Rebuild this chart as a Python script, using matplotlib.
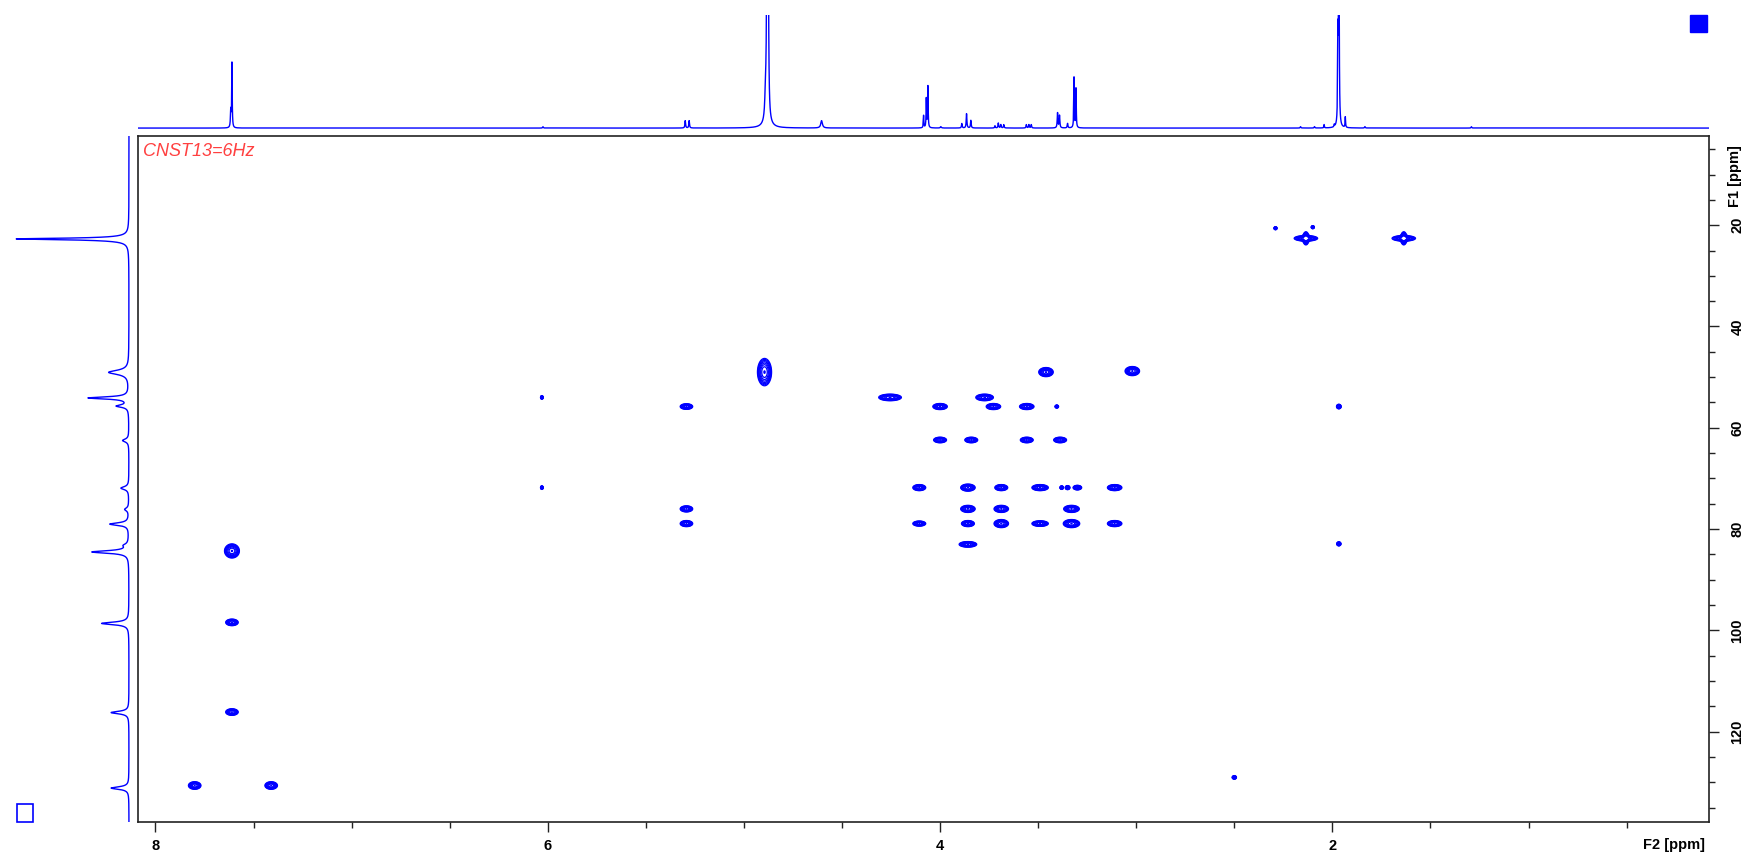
import numpy as np
import matplotlib
matplotlib.use("Agg")
from matplotlib import pyplot as plt
from matplotlib.ticker import MultipleLocator
from matplotlib.patches import Rectangle

# 1H projection on top (F2): shift [ppm], height, half width [ppm]
h_shift = [7.610, 7.616, 6.024, 5.299, 5.279, 4.877, 4.882, 4.890, 4.880, 4.604,
           4.084, 4.070, 4.062, 3.996, 3.889, 3.865, 3.843, 3.720, 3.703, 3.690,
           3.675, 3.560, 3.547, 3.535, 3.401, 3.391, 3.350, 3.317, 3.307,
           2.162, 2.091, 2.042, 1.990, 1.967, 1.972, 1.934, 1.834, 1.291]
h_height = [0.57, 0.15, 0.012, 0.065, 0.065, 3.0, 3.0, 0.20, 0.03, 0.065,
            0.11, 0.26, 0.37, 0.012, 0.04, 0.127, 0.068, 0.02, 0.044, 0.03,
            0.03, 0.03, 0.03, 0.03, 0.133, 0.11, 0.04, 0.45, 0.35,
            0.012, 0.012, 0.03, 0.02, 3.0, 0.71, 0.094, 0.012, 0.012]
h_hwhm = [0.0015, 0.002, 0.002, 0.002, 0.002, 0.002, 0.002, 0.004, 0.025, 0.005,
          0.0015, 0.0015, 0.0015, 0.003, 0.002, 0.002, 0.002, 0.002, 0.002, 0.002,
          0.002, 0.002, 0.002, 0.002, 0.002, 0.002, 0.002, 0.0015, 0.0015,
          0.002, 0.002, 0.0015, 0.0015, 0.0015, 0.0015, 0.0015, 0.002, 0.002]

# 13C projection on the left (F1)
c_shift = [22.7, 22.75, 49.05, 54.1, 55.7, 62.5, 71.9, 76.1, 79.0, 83.2, 84.5, 98.6, 116.2, 131.1]
c_height = [0.50, 0.46, 0.17, 0.34, 0.10, 0.053, 0.067, 0.034, 0.16, 0.034, 0.31, 0.23, 0.15, 0.15]
c_hwhm = [0.12, 0.3, 0.5, 0.25, 0.3, 0.35, 0.35, 0.35, 0.3, 0.35, 0.3, 0.3, 0.3, 0.3]

# HMBC cross peaks: F2 [ppm], F1 [ppm], half extent in F2, half extent in F1
pk_f2 = [2.29, 2.10, 2.135, 2.135, 1.636, 1.636,
         4.895, 3.46, 3.02,
         6.03, 4.255, 3.773,
         5.293, 4.00, 3.728, 3.558, 3.405, 1.967,
         4.00, 3.841, 3.558, 3.388,
         6.03, 4.106, 3.858, 3.688, 3.490, 3.38, 3.35, 3.30, 3.110,
         5.293, 3.858, 3.688, 3.33,
         5.293, 4.106, 3.858, 3.688, 3.490, 3.33, 3.110,
         3.858, 1.967,
         7.61, 7.61, 7.61,
         7.80, 7.41, 2.50]
pk_f1 = [20.6, 20.4, 22.6, 22.6, 22.6, 22.6,
         49.0, 49.0, 48.8,
         54.0, 54.0, 54.0,
         55.8, 55.8, 55.8, 55.8, 55.8, 55.8,
         62.4, 62.4, 62.4, 62.4,
         71.8, 71.8, 71.8, 71.8, 71.8, 71.8, 71.8, 71.8, 71.8,
         76.0, 76.0, 76.0, 76.0,
         78.9, 78.9, 78.9, 78.9, 78.9, 78.9, 78.9,
         83.0, 82.9,
         84.3, 98.4, 116.1,
         130.6, 130.6, 129.0]
pk_w2 = [0.008, 0.008, 0.06, 0.016, 0.06, 0.016,
         0.036, 0.037, 0.037,
         0.007, 0.058, 0.045,
         0.032, 0.037, 0.037, 0.037, 0.009, 0.012,
         0.033, 0.033, 0.033, 0.033,
         0.007, 0.033, 0.037, 0.033, 0.042, 0.009, 0.012, 0.022, 0.037,
         0.032, 0.037, 0.037, 0.04,
         0.032, 0.033, 0.033, 0.037, 0.042, 0.042, 0.037,
         0.045, 0.011,
         0.038, 0.032, 0.032,
         0.032, 0.032, 0.011]
pk_w1 = [0.3, 0.3, 0.55, 1.3, 0.55, 1.3,
         2.7, 0.9, 0.9,
         0.35, 0.65, 0.65,
         0.55, 0.6, 0.6, 0.6, 0.3, 0.45,
         0.55, 0.55, 0.55, 0.55,
         0.35, 0.6, 0.7, 0.6, 0.6, 0.35, 0.4, 0.45, 0.6,
         0.6, 0.7, 0.7, 0.7,
         0.6, 0.5, 0.6, 0.8, 0.55, 0.8, 0.6,
         0.55, 0.4,
         1.4, 0.65, 0.65,
         0.75, 0.75, 0.35]

f2_lim = (8.09, 0.08)
f1_lim = (137.8, 2.4)
levels = list(0.12 * 1.35 ** np.arange(8))


def lorentz(axis, shifts, heights, widths):
    s = np.zeros_like(axis)
    for x0, h, w in zip(shifts, heights, widths):
        s += h / (1 + ((axis - x0) / w) ** 2)
    return s


def cross_peaks(gx, gy):
    Z = np.zeros((gy.size, gx.size))
    k = np.sqrt(2 * np.log(1 / levels[0]))
    for x0, y0, wx, wy in zip(pk_f2, pk_f1, pk_w2, pk_w1):
        sx, sy = wx / k, wy / k
        ix = np.where(np.abs(gx - x0) < 4 * sx)[0]
        iy = np.where(np.abs(gy - y0) < 4 * sy)[0]
        Z[np.ix_(iy, ix)] += np.exp(-0.5 * ((gy[iy, None] - y0) / sy) ** 2
                                    - 0.5 * ((gx[None, ix] - x0) / sx) ** 2)
    return Z


plt.rcParams['font.family'] = ['Liberation Sans', 'DejaVu Sans']
plt.rcParams['font.weight'] = 'bold'

W, H = 1744, 858
fig = plt.figure(figsize=(W / 100, H / 100), dpi=100)


def box(x0, y0, x1, y1):
    return [x0 / W, 1 - y1 / H, (x1 - x0) / W, (y1 - y0) / H]


ax = fig.add_axes(box(137.8, 136, 1709, 822))
top = fig.add_axes(box(137.8, 15, 1709, 131))
side = fig.add_axes(box(10, 136, 131, 822))

# 2D contour map
gx = np.linspace(f2_lim[1], f2_lim[0], 3200)
gy = np.linspace(f1_lim[1], f1_lim[0], 1400)
Z = cross_peaks(gx, gy)
ax.contour(gx, gy, Z, levels=levels, colors='#0000ff', linewidths=0.9)
ax.set_xlim(f2_lim)
ax.set_ylim(f1_lim)
ax.xaxis.set_major_locator(MultipleLocator(2))
ax.xaxis.set_minor_locator(MultipleLocator(0.5))
ax.yaxis.set_major_locator(MultipleLocator(20))
ax.yaxis.set_minor_locator(MultipleLocator(5))
ax.yaxis.tick_right()
ax.tick_params(axis='both', which='major', direction='out', length=7.5, width=1,
               labelsize=10.5, color='#222222')
ax.tick_params(axis='both', which='minor', direction='out', length=4.5, width=1,
               color='#222222')
ax.tick_params(axis='x', pad=5)
ax.tick_params(axis='y', pad=8, labelrotation=90)
for lab in ax.get_yticklabels():
    lab.set_va('center')
for sp in ax.spines.values():
    sp.set_linewidth(1.2)
    sp.set_color('#222222')

ax.text(0.0035, 0.977, 'CNST13=6Hz', transform=ax.transAxes, color='#ff4040',
        style='italic', weight='normal', fontsize=13, va='center', ha='left')

# 1H projection
hx = np.linspace(f2_lim[1], f2_lim[0], 24000)
top.plot(hx, lorentz(hx, h_shift, h_height, h_hwhm), color='#0000ff', lw=1.0)
top.set_xlim(f2_lim)
top.set_ylim(-0.026, 1)
top.axis('off')

# 13C projection
cy = np.linspace(f1_lim[1], f1_lim[0], 8000)
side.plot(lorentz(cy, c_shift, c_height, c_hwhm), cy, color='#0000ff', lw=1.0)
side.set_xlim(1.0, -0.017)
side.set_ylim(f1_lim)
side.axis('off')

fig.text(1705 / W, 1 - 845 / H, 'F2 [ppm]', ha='right', va='center', fontsize=10.5)
fig.text(1735 / W, 1 - 176 / H, 'F1 [ppm]', ha='center', va='center', rotation=90,
         fontsize=10.5)

fig.add_artist(Rectangle((1690 / W, 1 - 32 / H), 17 / W, 17 / H, transform=fig.transFigure,
                         facecolor='#0000ff', edgecolor='#0000ff'))
fig.add_artist(Rectangle((17 / W, 1 - 822 / H), 16 / W, 18 / H, transform=fig.transFigure,
                         fill=False, edgecolor='#0000ff', lw=1.2))

fig.savefig('out.png', dpi=100)
